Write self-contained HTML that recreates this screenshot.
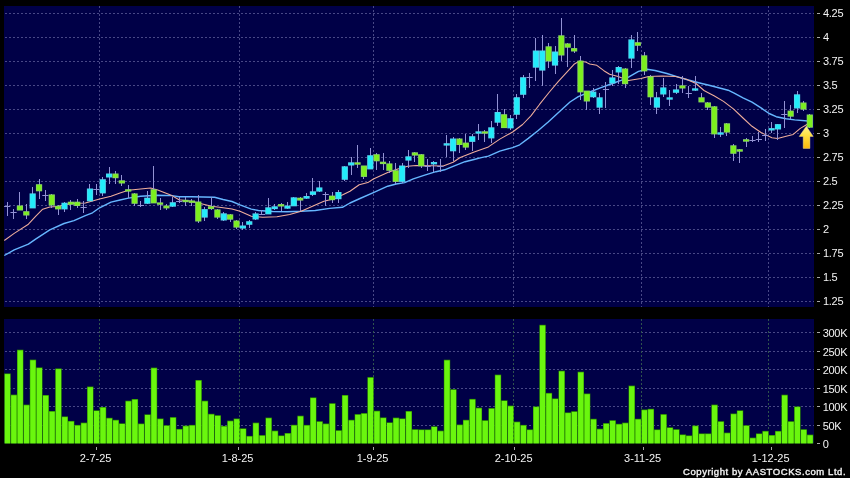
<!DOCTYPE html>
<html><head><meta charset="utf-8"><title>Chart</title>
<style>html,body{margin:0;padding:0;background:#000;}body{width:850px;height:478px;position:relative;overflow:hidden;font-family:"Liberation Sans",sans-serif;}</style></head>
<body>
<svg width="850" height="478" viewBox="0 0 850 478" style="position:absolute;left:0;top:0;will-change:transform">
<rect x="4" y="6" width="810" height="301" fill="#000047"/>
<rect x="4" y="319" width="810" height="124.4" fill="#000047"/>
<g stroke="#484886" stroke-width="1" stroke-dasharray="2 2" shape-rendering="crispEdges" fill="none">
<path d="M5 13.5H814"/>
<path d="M5 37.5H814"/>
<path d="M5 61.5H814"/>
<path d="M5 85.5H814"/>
<path d="M5 109.5H814"/>
<path d="M5 133.5H814"/>
<path d="M5 157.5H814"/>
<path d="M5 181.5H814"/>
<path d="M5 205.5H814"/>
<path d="M5 229.5H814"/>
<path d="M5 253.5H814"/>
<path d="M5 277.5H814"/>
<path d="M5 301.5H814"/>
<path d="M5 332.5H814"/>
<path d="M5 351.5H814"/>
<path d="M5 369.5H814"/>
<path d="M5 388.5H814"/>
<path d="M5 406.5H814"/>
<path d="M5 425.5H814"/>
<path d="M99.5 6V307"/>
<path d="M99.5 319V444"/>
<path d="M239.5 6V307"/>
<path d="M239.5 319V444"/>
<path d="M373.5 6V307"/>
<path d="M373.5 319V444"/>
<path d="M513.5 6V307"/>
<path d="M513.5 319V444"/>
<path d="M641.5 6V307"/>
<path d="M641.5 319V444"/>
<path d="M768.5 6V307"/>
<path d="M768.5 319V444"/>
</g>
<g>
<rect x="4.30" y="373.4" width="6.37" height="70.0" fill="#2c8c00"/>
<rect x="4.80" y="374.1" width="5.37" height="69.3" fill="#6af60e"/>
<rect x="10.67" y="394.6" width="6.37" height="48.8" fill="#2c8c00"/>
<rect x="11.17" y="395.3" width="5.37" height="48.1" fill="#6af60e"/>
<rect x="17.04" y="349.7" width="6.37" height="93.7" fill="#2c8c00"/>
<rect x="17.54" y="350.4" width="5.37" height="93.0" fill="#6af60e"/>
<rect x="23.41" y="404.6" width="6.37" height="38.8" fill="#2c8c00"/>
<rect x="23.91" y="405.3" width="5.37" height="38.1" fill="#6af60e"/>
<rect x="29.78" y="359.6" width="6.37" height="83.8" fill="#2c8c00"/>
<rect x="30.28" y="360.3" width="5.37" height="83.1" fill="#6af60e"/>
<rect x="36.15" y="367.4" width="6.37" height="76.0" fill="#2c8c00"/>
<rect x="36.65" y="368.1" width="5.37" height="75.3" fill="#6af60e"/>
<rect x="42.52" y="395.0" width="6.37" height="48.4" fill="#2c8c00"/>
<rect x="43.02" y="395.7" width="5.37" height="47.7" fill="#6af60e"/>
<rect x="48.89" y="411.0" width="6.37" height="32.4" fill="#2c8c00"/>
<rect x="49.39" y="411.7" width="5.37" height="31.7" fill="#6af60e"/>
<rect x="55.26" y="368.4" width="6.37" height="75.0" fill="#2c8c00"/>
<rect x="55.76" y="369.1" width="5.37" height="74.3" fill="#6af60e"/>
<rect x="61.63" y="416.4" width="6.37" height="27.0" fill="#2c8c00"/>
<rect x="62.13" y="417.1" width="5.37" height="26.3" fill="#6af60e"/>
<rect x="68.00" y="420.9" width="6.37" height="22.5" fill="#2c8c00"/>
<rect x="68.50" y="421.6" width="5.37" height="21.8" fill="#6af60e"/>
<rect x="74.37" y="424.9" width="6.37" height="18.5" fill="#2c8c00"/>
<rect x="74.87" y="425.6" width="5.37" height="17.8" fill="#6af60e"/>
<rect x="80.74" y="422.6" width="6.37" height="20.8" fill="#2c8c00"/>
<rect x="81.24" y="423.3" width="5.37" height="20.1" fill="#6af60e"/>
<rect x="87.11" y="386.5" width="6.37" height="56.9" fill="#2c8c00"/>
<rect x="87.61" y="387.2" width="5.37" height="56.2" fill="#6af60e"/>
<rect x="93.48" y="410.3" width="6.37" height="33.1" fill="#2c8c00"/>
<rect x="93.98" y="411.0" width="5.37" height="32.4" fill="#6af60e"/>
<rect x="99.85" y="407.0" width="6.37" height="36.4" fill="#2c8c00"/>
<rect x="100.35" y="407.7" width="5.37" height="35.7" fill="#6af60e"/>
<rect x="106.22" y="417.8" width="6.37" height="25.6" fill="#2c8c00"/>
<rect x="106.72" y="418.5" width="5.37" height="24.9" fill="#6af60e"/>
<rect x="112.59" y="419.8" width="6.37" height="23.6" fill="#2c8c00"/>
<rect x="113.09" y="420.5" width="5.37" height="22.9" fill="#6af60e"/>
<rect x="118.96" y="423.3" width="6.37" height="20.1" fill="#2c8c00"/>
<rect x="119.46" y="424.0" width="5.37" height="19.4" fill="#6af60e"/>
<rect x="125.33" y="400.7" width="6.37" height="42.7" fill="#2c8c00"/>
<rect x="125.83" y="401.4" width="5.37" height="42.0" fill="#6af60e"/>
<rect x="131.70" y="399.0" width="6.37" height="44.4" fill="#2c8c00"/>
<rect x="132.20" y="399.7" width="5.37" height="43.7" fill="#6af60e"/>
<rect x="138.07" y="423.5" width="6.37" height="19.9" fill="#2c8c00"/>
<rect x="138.57" y="424.2" width="5.37" height="19.2" fill="#6af60e"/>
<rect x="144.44" y="414.3" width="6.37" height="29.1" fill="#2c8c00"/>
<rect x="144.94" y="415.0" width="5.37" height="28.4" fill="#6af60e"/>
<rect x="150.81" y="367.6" width="6.37" height="75.8" fill="#2c8c00"/>
<rect x="151.31" y="368.3" width="5.37" height="75.1" fill="#6af60e"/>
<rect x="157.18" y="418.5" width="6.37" height="24.9" fill="#2c8c00"/>
<rect x="157.68" y="419.2" width="5.37" height="24.2" fill="#6af60e"/>
<rect x="163.55" y="425.2" width="6.37" height="18.2" fill="#2c8c00"/>
<rect x="164.05" y="425.9" width="5.37" height="17.5" fill="#6af60e"/>
<rect x="169.92" y="417.1" width="6.37" height="26.3" fill="#2c8c00"/>
<rect x="170.42" y="417.8" width="5.37" height="25.6" fill="#6af60e"/>
<rect x="176.29" y="428.9" width="6.37" height="14.5" fill="#2c8c00"/>
<rect x="176.79" y="429.6" width="5.37" height="13.8" fill="#6af60e"/>
<rect x="182.66" y="425.6" width="6.37" height="17.8" fill="#2c8c00"/>
<rect x="183.16" y="426.3" width="5.37" height="17.1" fill="#6af60e"/>
<rect x="189.03" y="424.9" width="6.37" height="18.5" fill="#2c8c00"/>
<rect x="189.53" y="425.6" width="5.37" height="17.8" fill="#6af60e"/>
<rect x="195.40" y="380.0" width="6.37" height="63.4" fill="#2c8c00"/>
<rect x="195.90" y="380.7" width="5.37" height="62.7" fill="#6af60e"/>
<rect x="201.77" y="400.7" width="6.37" height="42.7" fill="#2c8c00"/>
<rect x="202.27" y="401.4" width="5.37" height="42.0" fill="#6af60e"/>
<rect x="208.14" y="413.8" width="6.37" height="29.6" fill="#2c8c00"/>
<rect x="208.64" y="414.5" width="5.37" height="28.9" fill="#6af60e"/>
<rect x="214.51" y="415.2" width="6.37" height="28.2" fill="#2c8c00"/>
<rect x="215.01" y="415.9" width="5.37" height="27.5" fill="#6af60e"/>
<rect x="220.88" y="425.9" width="6.37" height="17.5" fill="#2c8c00"/>
<rect x="221.38" y="426.6" width="5.37" height="16.8" fill="#6af60e"/>
<rect x="227.25" y="420.6" width="6.37" height="22.8" fill="#2c8c00"/>
<rect x="227.75" y="421.3" width="5.37" height="22.1" fill="#6af60e"/>
<rect x="233.62" y="418.5" width="6.37" height="24.9" fill="#2c8c00"/>
<rect x="234.12" y="419.2" width="5.37" height="24.2" fill="#6af60e"/>
<rect x="239.99" y="428.3" width="6.37" height="15.1" fill="#2c8c00"/>
<rect x="240.49" y="429.0" width="5.37" height="14.4" fill="#6af60e"/>
<rect x="246.36" y="435.9" width="6.37" height="7.5" fill="#2c8c00"/>
<rect x="246.86" y="436.6" width="5.37" height="6.8" fill="#6af60e"/>
<rect x="252.73" y="422.6" width="6.37" height="20.8" fill="#2c8c00"/>
<rect x="253.23" y="423.3" width="5.37" height="20.1" fill="#6af60e"/>
<rect x="259.10" y="435.1" width="6.37" height="8.3" fill="#2c8c00"/>
<rect x="259.60" y="435.8" width="5.37" height="7.6" fill="#6af60e"/>
<rect x="265.47" y="417.6" width="6.37" height="25.8" fill="#2c8c00"/>
<rect x="265.97" y="418.3" width="5.37" height="25.1" fill="#6af60e"/>
<rect x="271.84" y="430.6" width="6.37" height="12.8" fill="#2c8c00"/>
<rect x="272.34" y="431.3" width="5.37" height="12.1" fill="#6af60e"/>
<rect x="278.21" y="435.4" width="6.37" height="8.0" fill="#2c8c00"/>
<rect x="278.71" y="436.1" width="5.37" height="7.3" fill="#6af60e"/>
<rect x="284.58" y="433.0" width="6.37" height="10.4" fill="#2c8c00"/>
<rect x="285.08" y="433.7" width="5.37" height="9.7" fill="#6af60e"/>
<rect x="290.95" y="424.8" width="6.37" height="18.6" fill="#2c8c00"/>
<rect x="291.45" y="425.5" width="5.37" height="17.9" fill="#6af60e"/>
<rect x="297.32" y="415.7" width="6.37" height="27.7" fill="#2c8c00"/>
<rect x="297.82" y="416.4" width="5.37" height="27.0" fill="#6af60e"/>
<rect x="303.69" y="424.9" width="6.37" height="18.5" fill="#2c8c00"/>
<rect x="304.19" y="425.6" width="5.37" height="17.8" fill="#6af60e"/>
<rect x="310.06" y="397.4" width="6.37" height="46.0" fill="#2c8c00"/>
<rect x="310.56" y="398.1" width="5.37" height="45.3" fill="#6af60e"/>
<rect x="316.43" y="421.2" width="6.37" height="22.2" fill="#2c8c00"/>
<rect x="316.93" y="421.9" width="5.37" height="21.5" fill="#6af60e"/>
<rect x="322.80" y="423.5" width="6.37" height="19.9" fill="#2c8c00"/>
<rect x="323.30" y="424.2" width="5.37" height="19.2" fill="#6af60e"/>
<rect x="329.17" y="403.2" width="6.37" height="40.2" fill="#2c8c00"/>
<rect x="329.67" y="403.9" width="5.37" height="39.5" fill="#6af60e"/>
<rect x="335.54" y="430.2" width="6.37" height="13.2" fill="#2c8c00"/>
<rect x="336.04" y="430.9" width="5.37" height="12.5" fill="#6af60e"/>
<rect x="341.91" y="395.0" width="6.37" height="48.4" fill="#2c8c00"/>
<rect x="342.41" y="395.7" width="5.37" height="47.7" fill="#6af60e"/>
<rect x="348.28" y="419.8" width="6.37" height="23.6" fill="#2c8c00"/>
<rect x="348.78" y="420.5" width="5.37" height="22.9" fill="#6af60e"/>
<rect x="354.65" y="414.1" width="6.37" height="29.3" fill="#2c8c00"/>
<rect x="355.15" y="414.8" width="5.37" height="28.6" fill="#6af60e"/>
<rect x="361.02" y="413.1" width="6.37" height="30.3" fill="#2c8c00"/>
<rect x="361.52" y="413.8" width="5.37" height="29.6" fill="#6af60e"/>
<rect x="367.39" y="377.1" width="6.37" height="66.3" fill="#2c8c00"/>
<rect x="367.89" y="377.8" width="5.37" height="65.6" fill="#6af60e"/>
<rect x="373.76" y="410.7" width="6.37" height="32.7" fill="#2c8c00"/>
<rect x="374.26" y="411.4" width="5.37" height="32.0" fill="#6af60e"/>
<rect x="380.13" y="417.4" width="6.37" height="26.0" fill="#2c8c00"/>
<rect x="380.63" y="418.1" width="5.37" height="25.3" fill="#6af60e"/>
<rect x="386.50" y="422.3" width="6.37" height="21.1" fill="#2c8c00"/>
<rect x="387.00" y="423.0" width="5.37" height="20.4" fill="#6af60e"/>
<rect x="392.87" y="417.6" width="6.37" height="25.8" fill="#2c8c00"/>
<rect x="393.37" y="418.3" width="5.37" height="25.1" fill="#6af60e"/>
<rect x="399.24" y="418.4" width="6.37" height="25.0" fill="#2c8c00"/>
<rect x="399.74" y="419.1" width="5.37" height="24.3" fill="#6af60e"/>
<rect x="405.61" y="411.0" width="6.37" height="32.4" fill="#2c8c00"/>
<rect x="406.11" y="411.7" width="5.37" height="31.7" fill="#6af60e"/>
<rect x="411.98" y="429.2" width="6.37" height="14.2" fill="#2c8c00"/>
<rect x="412.48" y="429.9" width="5.37" height="13.5" fill="#6af60e"/>
<rect x="418.35" y="429.4" width="6.37" height="14.0" fill="#2c8c00"/>
<rect x="418.85" y="430.1" width="5.37" height="13.3" fill="#6af60e"/>
<rect x="424.72" y="429.4" width="6.37" height="14.0" fill="#2c8c00"/>
<rect x="425.22" y="430.1" width="5.37" height="13.3" fill="#6af60e"/>
<rect x="431.09" y="426.3" width="6.37" height="17.1" fill="#2c8c00"/>
<rect x="431.59" y="427.0" width="5.37" height="16.4" fill="#6af60e"/>
<rect x="437.46" y="430.6" width="6.37" height="12.8" fill="#2c8c00"/>
<rect x="437.96" y="431.3" width="5.37" height="12.1" fill="#6af60e"/>
<rect x="443.83" y="359.7" width="6.37" height="83.7" fill="#2c8c00"/>
<rect x="444.33" y="360.4" width="5.37" height="83.0" fill="#6af60e"/>
<rect x="450.20" y="389.2" width="6.37" height="54.2" fill="#2c8c00"/>
<rect x="450.70" y="389.9" width="5.37" height="53.5" fill="#6af60e"/>
<rect x="456.57" y="424.5" width="6.37" height="18.9" fill="#2c8c00"/>
<rect x="457.07" y="425.2" width="5.37" height="18.2" fill="#6af60e"/>
<rect x="462.94" y="419.8" width="6.37" height="23.6" fill="#2c8c00"/>
<rect x="463.44" y="420.5" width="5.37" height="22.9" fill="#6af60e"/>
<rect x="469.31" y="398.9" width="6.37" height="44.5" fill="#2c8c00"/>
<rect x="469.81" y="399.6" width="5.37" height="43.8" fill="#6af60e"/>
<rect x="475.68" y="407.7" width="6.37" height="35.7" fill="#2c8c00"/>
<rect x="476.18" y="408.4" width="5.37" height="35.0" fill="#6af60e"/>
<rect x="482.05" y="420.2" width="6.37" height="23.2" fill="#2c8c00"/>
<rect x="482.55" y="420.9" width="5.37" height="22.5" fill="#6af60e"/>
<rect x="488.42" y="408.1" width="6.37" height="35.3" fill="#2c8c00"/>
<rect x="488.92" y="408.8" width="5.37" height="34.6" fill="#6af60e"/>
<rect x="494.79" y="374.6" width="6.37" height="68.8" fill="#2c8c00"/>
<rect x="495.29" y="375.3" width="5.37" height="68.1" fill="#6af60e"/>
<rect x="501.16" y="400.3" width="6.37" height="43.1" fill="#2c8c00"/>
<rect x="501.66" y="401.0" width="5.37" height="42.4" fill="#6af60e"/>
<rect x="507.53" y="405.6" width="6.37" height="37.8" fill="#2c8c00"/>
<rect x="508.03" y="406.3" width="5.37" height="37.1" fill="#6af60e"/>
<rect x="513.90" y="421.6" width="6.37" height="21.8" fill="#2c8c00"/>
<rect x="514.40" y="422.3" width="5.37" height="21.1" fill="#6af60e"/>
<rect x="520.27" y="424.9" width="6.37" height="18.5" fill="#2c8c00"/>
<rect x="520.77" y="425.6" width="5.37" height="17.8" fill="#6af60e"/>
<rect x="526.64" y="429.4" width="6.37" height="14.0" fill="#2c8c00"/>
<rect x="527.14" y="430.1" width="5.37" height="13.3" fill="#6af60e"/>
<rect x="533.01" y="406.4" width="6.37" height="37.0" fill="#2c8c00"/>
<rect x="533.51" y="407.1" width="5.37" height="36.3" fill="#6af60e"/>
<rect x="539.38" y="324.8" width="6.37" height="118.6" fill="#2c8c00"/>
<rect x="539.88" y="325.5" width="5.37" height="117.9" fill="#6af60e"/>
<rect x="545.75" y="392.9" width="6.37" height="50.5" fill="#2c8c00"/>
<rect x="546.25" y="393.6" width="5.37" height="49.8" fill="#6af60e"/>
<rect x="552.12" y="398.4" width="6.37" height="45.0" fill="#2c8c00"/>
<rect x="552.62" y="399.1" width="5.37" height="44.3" fill="#6af60e"/>
<rect x="558.49" y="370.7" width="6.37" height="72.7" fill="#2c8c00"/>
<rect x="558.99" y="371.4" width="5.37" height="72.0" fill="#6af60e"/>
<rect x="564.86" y="412.4" width="6.37" height="31.0" fill="#2c8c00"/>
<rect x="565.36" y="413.1" width="5.37" height="30.3" fill="#6af60e"/>
<rect x="571.23" y="411.2" width="6.37" height="32.2" fill="#2c8c00"/>
<rect x="571.73" y="411.9" width="5.37" height="31.5" fill="#6af60e"/>
<rect x="577.60" y="371.7" width="6.37" height="71.7" fill="#2c8c00"/>
<rect x="578.10" y="372.4" width="5.37" height="71.0" fill="#6af60e"/>
<rect x="583.97" y="393.5" width="6.37" height="49.9" fill="#2c8c00"/>
<rect x="584.47" y="394.2" width="5.37" height="49.2" fill="#6af60e"/>
<rect x="590.34" y="418.8" width="6.37" height="24.6" fill="#2c8c00"/>
<rect x="590.84" y="419.5" width="5.37" height="23.9" fill="#6af60e"/>
<rect x="596.71" y="428.7" width="6.37" height="14.7" fill="#2c8c00"/>
<rect x="597.21" y="429.4" width="5.37" height="14.0" fill="#6af60e"/>
<rect x="603.08" y="423.1" width="6.37" height="20.3" fill="#2c8c00"/>
<rect x="603.58" y="423.8" width="5.37" height="19.6" fill="#6af60e"/>
<rect x="609.45" y="420.2" width="6.37" height="23.2" fill="#2c8c00"/>
<rect x="609.95" y="420.9" width="5.37" height="22.5" fill="#6af60e"/>
<rect x="615.82" y="423.8" width="6.37" height="19.6" fill="#2c8c00"/>
<rect x="616.32" y="424.5" width="5.37" height="18.9" fill="#6af60e"/>
<rect x="622.19" y="422.6" width="6.37" height="20.8" fill="#2c8c00"/>
<rect x="622.69" y="423.3" width="5.37" height="20.1" fill="#6af60e"/>
<rect x="628.56" y="385.6" width="6.37" height="57.8" fill="#2c8c00"/>
<rect x="629.06" y="386.3" width="5.37" height="57.1" fill="#6af60e"/>
<rect x="634.93" y="418.8" width="6.37" height="24.6" fill="#2c8c00"/>
<rect x="635.43" y="419.5" width="5.37" height="23.9" fill="#6af60e"/>
<rect x="641.30" y="409.5" width="6.37" height="33.9" fill="#2c8c00"/>
<rect x="641.80" y="410.2" width="5.37" height="33.2" fill="#6af60e"/>
<rect x="647.67" y="408.8" width="6.37" height="34.6" fill="#2c8c00"/>
<rect x="648.17" y="409.5" width="5.37" height="33.9" fill="#6af60e"/>
<rect x="654.04" y="429.4" width="6.37" height="14.0" fill="#2c8c00"/>
<rect x="654.54" y="430.1" width="5.37" height="13.3" fill="#6af60e"/>
<rect x="660.41" y="414.1" width="6.37" height="29.3" fill="#2c8c00"/>
<rect x="660.91" y="414.8" width="5.37" height="28.6" fill="#6af60e"/>
<rect x="666.78" y="427.3" width="6.37" height="16.1" fill="#2c8c00"/>
<rect x="667.28" y="428.0" width="5.37" height="15.4" fill="#6af60e"/>
<rect x="673.15" y="429.2" width="6.37" height="14.2" fill="#2c8c00"/>
<rect x="673.65" y="429.9" width="5.37" height="13.5" fill="#6af60e"/>
<rect x="679.52" y="434.4" width="6.37" height="9.0" fill="#2c8c00"/>
<rect x="680.02" y="435.1" width="5.37" height="8.3" fill="#6af60e"/>
<rect x="685.89" y="435.4" width="6.37" height="8.0" fill="#2c8c00"/>
<rect x="686.39" y="436.1" width="5.37" height="7.3" fill="#6af60e"/>
<rect x="692.26" y="425.5" width="6.37" height="17.9" fill="#2c8c00"/>
<rect x="692.76" y="426.2" width="5.37" height="17.2" fill="#6af60e"/>
<rect x="698.63" y="433.4" width="6.37" height="10.0" fill="#2c8c00"/>
<rect x="699.13" y="434.1" width="5.37" height="9.3" fill="#6af60e"/>
<rect x="705.00" y="433.4" width="6.37" height="10.0" fill="#2c8c00"/>
<rect x="705.50" y="434.1" width="5.37" height="9.3" fill="#6af60e"/>
<rect x="711.37" y="404.6" width="6.37" height="38.8" fill="#2c8c00"/>
<rect x="711.87" y="405.3" width="5.37" height="38.1" fill="#6af60e"/>
<rect x="717.74" y="421.2" width="6.37" height="22.2" fill="#2c8c00"/>
<rect x="718.24" y="421.9" width="5.37" height="21.5" fill="#6af60e"/>
<rect x="724.11" y="432.6" width="6.37" height="10.8" fill="#2c8c00"/>
<rect x="724.61" y="433.3" width="5.37" height="10.1" fill="#6af60e"/>
<rect x="730.48" y="413.5" width="6.37" height="29.9" fill="#2c8c00"/>
<rect x="730.98" y="414.2" width="5.37" height="29.2" fill="#6af60e"/>
<rect x="736.85" y="410.3" width="6.37" height="33.1" fill="#2c8c00"/>
<rect x="737.35" y="411.0" width="5.37" height="32.4" fill="#6af60e"/>
<rect x="743.22" y="425.2" width="6.37" height="18.2" fill="#2c8c00"/>
<rect x="743.72" y="425.9" width="5.37" height="17.5" fill="#6af60e"/>
<rect x="749.59" y="437.6" width="6.37" height="5.8" fill="#2c8c00"/>
<rect x="750.09" y="438.3" width="5.37" height="5.1" fill="#6af60e"/>
<rect x="755.96" y="433.4" width="6.37" height="10.0" fill="#2c8c00"/>
<rect x="756.46" y="434.1" width="5.37" height="9.3" fill="#6af60e"/>
<rect x="762.33" y="430.9" width="6.37" height="12.5" fill="#2c8c00"/>
<rect x="762.83" y="431.6" width="5.37" height="11.8" fill="#6af60e"/>
<rect x="768.70" y="435.0" width="6.37" height="8.4" fill="#2c8c00"/>
<rect x="769.20" y="435.7" width="5.37" height="7.7" fill="#6af60e"/>
<rect x="775.07" y="430.9" width="6.37" height="12.5" fill="#2c8c00"/>
<rect x="775.57" y="431.6" width="5.37" height="11.8" fill="#6af60e"/>
<rect x="781.44" y="394.7" width="6.37" height="48.7" fill="#2c8c00"/>
<rect x="781.94" y="395.4" width="5.37" height="48.0" fill="#6af60e"/>
<rect x="787.81" y="421.2" width="6.37" height="22.2" fill="#2c8c00"/>
<rect x="788.31" y="421.9" width="5.37" height="21.5" fill="#6af60e"/>
<rect x="794.18" y="406.4" width="6.37" height="37.0" fill="#2c8c00"/>
<rect x="794.68" y="407.1" width="5.37" height="36.3" fill="#6af60e"/>
<rect x="800.55" y="429.2" width="6.37" height="14.2" fill="#2c8c00"/>
<rect x="801.05" y="429.9" width="5.37" height="13.5" fill="#6af60e"/>
<rect x="806.92" y="434.6" width="6.37" height="8.8" fill="#2c8c00"/>
<rect x="807.42" y="435.3" width="5.37" height="8.1" fill="#6af60e"/>
</g>
<g stroke="#1c5c20" stroke-opacity=".55" stroke-width="1" stroke-dasharray="2 2" shape-rendering="crispEdges" fill="none">
<path d="M99.5 319V444"/>
<path d="M239.5 319V444"/>
<path d="M373.5 319V444"/>
<path d="M513.5 319V444"/>
<path d="M641.5 319V444"/>
<path d="M768.5 319V444"/>
</g>
<polyline points="4.3,255.5 14.2,249.8 28.4,244.1 35.6,239.1 49.8,229.9 64.0,223.5 74.0,220.6 85.3,215.6 92.5,212.8 99.6,207.8 111.0,202.1 120.0,200.0 128.4,198.1 140.6,196.3 157.7,195.3 171.9,195.6 179.0,196.7 191.8,196.7 214.6,197.3 223.1,199.5 232.0,201.5 240.0,204.9 251.3,209.1 258.4,210.5 272.7,211.5 286.9,211.7 301.1,211.3 315.3,210.5 329.6,208.4 342.4,207.3 350.0,203.0 360.0,198.5 373.4,192.6 387.7,186.2 396.2,184.0 404.7,182.6 413.3,178.8 424.7,175.1 436.0,171.7 444.6,169.8 453.1,166.3 465.0,161.7 474.0,159.5 481.3,157.6 488.4,156.1 499.8,151.2 512.6,147.6 519.7,144.8 528.3,138.4 538.2,130.5 548.2,122.0 559.6,111.5 570.0,102.0 578.3,96.7 589.7,92.0 601.0,87.7 612.4,83.5 621.0,80.3 628.5,77.1 638.5,71.4 647.0,69.3 655.0,70.5 666.9,73.5 676.9,76.6 688.3,80.0 699.7,83.0 710.0,85.5 719.6,88.0 728.1,90.2 733.7,92.8 743.0,97.8 752.0,102.2 761.0,107.9 769.1,113.5 776.2,116.7 786.1,118.7 794.7,119.9 807.8,121.0" fill="none" stroke="#66b6ff" stroke-width="1.4" stroke-linejoin="round"/>
<polyline points="4.3,240.5 14.2,233.4 28.4,224.2 35.6,216.4 42.7,209.2 49.8,207.1 56.9,206.4 71.1,203.6 85.3,203.1 99.6,199.1 111.0,196.3 120.0,193.0 128.4,190.2 140.6,188.9 150.6,188.0 157.7,189.9 171.9,195.6 179.0,199.8 191.8,201.3 200.3,203.4 211.7,206.2 223.1,207.7 232.0,209.0 240.0,211.3 251.3,216.2 262.7,217.2 276.9,216.7 289.7,214.4 301.1,211.3 312.5,206.3 323.9,201.3 335.3,198.4 343.8,194.2 350.0,191.3 359.2,184.7 367.8,182.6 373.4,179.0 387.7,172.6 396.2,169.4 407.6,166.3 416.1,165.5 430.3,165.8 443.2,166.0 453.1,162.3 460.2,157.5 474.2,151.9 488.4,146.9 499.8,139.1 512.6,132.0 522.6,124.5 531.1,115.6 539.7,104.2 549.0,92.5 558.4,81.3 566.9,72.1 574.0,64.3 579.7,60.9 585.3,61.9 589.7,64.0 596.8,65.3 603.9,70.7 609.6,74.2 618.1,76.4 628.5,80.4 641.0,78.5 648.5,76.5 662.0,76.0 675.6,76.6 687.0,79.4 696.0,83.5 704.0,90.5 708.2,92.7 714.0,95.8 723.5,101.4 733.7,109.1 743.0,118.0 752.0,126.3 761.0,132.5 771.9,137.7 777.6,138.6 786.1,136.2 793.2,134.4 800.3,128.4 807.8,124.0" fill="none" stroke="#f0ae9c" stroke-width="1.05" stroke-linejoin="round"/>
<g>
<rect x="7" y="202" width="1" height="14" fill="#9292d4" shape-rendering="crispEdges"/>
<rect x="4.09" y="206" width="6.2" height="1" fill="#9292d4"/>
<rect x="13" y="209" width="1" height="10" fill="#9292d4" shape-rendering="crispEdges"/>
<rect x="10.46" y="212" width="6.2" height="1" fill="#9292d4"/>
<rect x="19" y="192" width="1" height="18" fill="#9292d4" shape-rendering="crispEdges"/>
<rect x="16.82" y="205.5" width="6.2" height="5.0" fill="#8bd466"/>
<rect x="17.62" y="206.3" width="4.6" height="3.4" fill="#7cf01e"/>
<rect x="26" y="204" width="1" height="15" fill="#9292d4" shape-rendering="crispEdges"/>
<rect x="23.20" y="211.2" width="6.2" height="4.3" fill="#8bd466"/>
<rect x="24.00" y="212.0" width="4.6" height="2.7" fill="#7cf01e"/>
<rect x="32" y="187" width="1" height="21" fill="#9292d4" shape-rendering="crispEdges"/>
<rect x="29.56" y="193.4" width="6.2" height="15.0" fill="#58d2ee"/>
<rect x="30.36" y="194.2" width="4.6" height="13.4" fill="#22ecfa"/>
<rect x="39" y="179" width="1" height="20" fill="#9292d4" shape-rendering="crispEdges"/>
<rect x="35.94" y="184.2" width="6.2" height="7.1" fill="#8bd466"/>
<rect x="36.74" y="185.0" width="4.6" height="5.5" fill="#7cf01e"/>
<rect x="45" y="190" width="1" height="11" fill="#9292d4" shape-rendering="crispEdges"/>
<rect x="42.30" y="195" width="6.2" height="1" fill="#9292d4"/>
<rect x="51" y="194" width="1" height="14" fill="#9292d4" shape-rendering="crispEdges"/>
<rect x="48.67" y="194.4" width="6.2" height="11.1" fill="#8bd466"/>
<rect x="49.48" y="195.2" width="4.6" height="9.5" fill="#7cf01e"/>
<rect x="58" y="205" width="1" height="10" fill="#9292d4" shape-rendering="crispEdges"/>
<rect x="55.05" y="205.8" width="6.2" height="3.6" fill="#8bd466"/>
<rect x="55.85" y="206.6" width="4.6" height="2.0" fill="#7cf01e"/>
<rect x="64" y="202" width="1" height="10" fill="#9292d4" shape-rendering="crispEdges"/>
<rect x="61.41" y="202.7" width="6.2" height="6.7" fill="#58d2ee"/>
<rect x="62.22" y="203.5" width="4.6" height="5.1" fill="#22ecfa"/>
<rect x="70" y="200" width="1" height="10" fill="#9292d4" shape-rendering="crispEdges"/>
<rect x="67.79" y="201.7" width="6.2" height="3.1" fill="#8bd466"/>
<rect x="68.59" y="202.5" width="4.6" height="1.5" fill="#7cf01e"/>
<rect x="77" y="199" width="1" height="9" fill="#9292d4" shape-rendering="crispEdges"/>
<rect x="74.16" y="201.7" width="6.2" height="4.3" fill="#8bd466"/>
<rect x="74.95" y="202.5" width="4.6" height="2.7" fill="#7cf01e"/>
<rect x="83" y="201" width="1" height="12" fill="#9292d4" shape-rendering="crispEdges"/>
<rect x="80.53" y="207" width="6.2" height="1" fill="#9292d4"/>
<rect x="89" y="184" width="1" height="17" fill="#9292d4" shape-rendering="crispEdges"/>
<rect x="86.90" y="188.5" width="6.2" height="12.8" fill="#58d2ee"/>
<rect x="87.70" y="189.3" width="4.6" height="11.2" fill="#22ecfa"/>
<rect x="96" y="184" width="1" height="11" fill="#9292d4" shape-rendering="crispEdges"/>
<rect x="93.27" y="189" width="6.2" height="1" fill="#9292d4"/>
<rect x="102" y="177" width="1" height="19" fill="#9292d4" shape-rendering="crispEdges"/>
<rect x="99.64" y="179.2" width="6.2" height="14.2" fill="#58d2ee"/>
<rect x="100.44" y="180.0" width="4.6" height="12.6" fill="#22ecfa"/>
<rect x="109" y="167" width="1" height="17" fill="#9292d4" shape-rendering="crispEdges"/>
<rect x="106.01" y="173.5" width="6.2" height="4.0" fill="#58d2ee"/>
<rect x="106.81" y="174.3" width="4.6" height="2.4" fill="#22ecfa"/>
<rect x="115" y="171" width="1" height="13" fill="#9292d4" shape-rendering="crispEdges"/>
<rect x="112.38" y="173.5" width="6.2" height="4.7" fill="#8bd466"/>
<rect x="113.18" y="174.3" width="4.6" height="3.1" fill="#7cf01e"/>
<rect x="121" y="175" width="1" height="11" fill="#9292d4" shape-rendering="crispEdges"/>
<rect x="118.75" y="180.3" width="6.2" height="3.2" fill="#8bd466"/>
<rect x="119.55" y="181.1" width="4.6" height="1.6" fill="#7cf01e"/>
<rect x="128" y="185" width="1" height="13" fill="#9292d4" shape-rendering="crispEdges"/>
<rect x="125.12" y="189.2" width="6.2" height="2.4" fill="#8bd466"/>
<rect x="125.92" y="190.0" width="4.6" height="0.8" fill="#7cf01e"/>
<rect x="134" y="193" width="1" height="13" fill="#9292d4" shape-rendering="crispEdges"/>
<rect x="131.49" y="193.4" width="6.2" height="10.4" fill="#8bd466"/>
<rect x="132.28" y="194.2" width="4.6" height="8.8" fill="#7cf01e"/>
<rect x="140" y="201" width="1" height="6" fill="#9292d4" shape-rendering="crispEdges"/>
<rect x="137.86" y="205" width="6.2" height="1" fill="#9292d4"/>
<rect x="147" y="191" width="1" height="13" fill="#9292d4" shape-rendering="crispEdges"/>
<rect x="144.22" y="197.7" width="6.2" height="6.1" fill="#58d2ee"/>
<rect x="145.02" y="198.5" width="4.6" height="4.5" fill="#22ecfa"/>
<rect x="153" y="166" width="1" height="37" fill="#9292d4" shape-rendering="crispEdges"/>
<rect x="150.59" y="189.2" width="6.2" height="14.2" fill="#8bd466"/>
<rect x="151.39" y="190.0" width="4.6" height="12.6" fill="#7cf01e"/>
<rect x="160" y="198" width="1" height="12" fill="#9292d4" shape-rendering="crispEdges"/>
<rect x="156.97" y="202.4" width="6.2" height="2.4" fill="#8bd466"/>
<rect x="157.76" y="203.2" width="4.6" height="0.8" fill="#7cf01e"/>
<rect x="166" y="204" width="1" height="6" fill="#9292d4" shape-rendering="crispEdges"/>
<rect x="163.34" y="205.5" width="6.2" height="2.9" fill="#8bd466"/>
<rect x="164.13" y="206.3" width="4.6" height="1.3" fill="#7cf01e"/>
<rect x="172" y="197" width="1" height="10" fill="#9292d4" shape-rendering="crispEdges"/>
<rect x="169.71" y="202.2" width="6.2" height="4.5" fill="#58d2ee"/>
<rect x="170.50" y="203.0" width="4.6" height="2.9" fill="#22ecfa"/>
<rect x="179" y="197" width="1" height="6" fill="#9292d4" shape-rendering="crispEdges"/>
<rect x="176.08" y="201" width="6.2" height="1" fill="#9292d4"/>
<rect x="185" y="197" width="1" height="9" fill="#9292d4" shape-rendering="crispEdges"/>
<rect x="182.45" y="199.8" width="6.2" height="2.4" fill="#8bd466"/>
<rect x="183.25" y="200.6" width="4.6" height="0.8" fill="#7cf01e"/>
<rect x="191" y="199" width="1" height="7" fill="#9292d4" shape-rendering="crispEdges"/>
<rect x="188.81" y="200.5" width="6.2" height="2.4" fill="#8bd466"/>
<rect x="189.61" y="201.3" width="4.6" height="0.8" fill="#7cf01e"/>
<rect x="198" y="195" width="1" height="28" fill="#9292d4" shape-rendering="crispEdges"/>
<rect x="195.19" y="201.5" width="6.2" height="20.0" fill="#8bd466"/>
<rect x="195.98" y="202.3" width="4.6" height="18.4" fill="#7cf01e"/>
<rect x="204" y="207" width="1" height="14" fill="#9292d4" shape-rendering="crispEdges"/>
<rect x="201.56" y="209.1" width="6.2" height="8.5" fill="#58d2ee"/>
<rect x="202.35" y="209.9" width="4.6" height="6.9" fill="#22ecfa"/>
<rect x="211" y="197" width="1" height="13" fill="#9292d4" shape-rendering="crispEdges"/>
<rect x="207.93" y="206.2" width="6.2" height="2.9" fill="#8bd466"/>
<rect x="208.72" y="207.0" width="4.6" height="1.3" fill="#7cf01e"/>
<rect x="217" y="209" width="1" height="10" fill="#9292d4" shape-rendering="crispEdges"/>
<rect x="214.30" y="209.4" width="6.2" height="8.2" fill="#8bd466"/>
<rect x="215.09" y="210.2" width="4.6" height="6.6" fill="#7cf01e"/>
<rect x="223" y="212" width="1" height="9" fill="#9292d4" shape-rendering="crispEdges"/>
<rect x="220.67" y="213.3" width="6.2" height="7.2" fill="#58d2ee"/>
<rect x="221.47" y="214.1" width="4.6" height="5.6" fill="#22ecfa"/>
<rect x="230" y="214" width="1" height="8" fill="#9292d4" shape-rendering="crispEdges"/>
<rect x="227.03" y="214.3" width="6.2" height="5.4" fill="#8bd466"/>
<rect x="227.83" y="215.1" width="4.6" height="3.8" fill="#7cf01e"/>
<rect x="236" y="220" width="1" height="9" fill="#9292d4" shape-rendering="crispEdges"/>
<rect x="233.41" y="220.5" width="6.2" height="7.1" fill="#8bd466"/>
<rect x="234.20" y="221.3" width="4.6" height="5.5" fill="#7cf01e"/>
<rect x="242" y="222" width="1" height="8" fill="#9292d4" shape-rendering="crispEdges"/>
<rect x="239.78" y="225.5" width="6.2" height="3.1" fill="#58d2ee"/>
<rect x="240.57" y="226.3" width="4.6" height="1.5" fill="#22ecfa"/>
<rect x="249" y="220" width="1" height="8" fill="#9292d4" shape-rendering="crispEdges"/>
<rect x="246.15" y="221.2" width="6.2" height="3.6" fill="#58d2ee"/>
<rect x="246.94" y="222.0" width="4.6" height="2.0" fill="#22ecfa"/>
<rect x="255" y="212" width="1" height="8" fill="#9292d4" shape-rendering="crispEdges"/>
<rect x="252.52" y="213.4" width="6.2" height="6.1" fill="#58d2ee"/>
<rect x="253.31" y="214.2" width="4.6" height="4.5" fill="#22ecfa"/>
<rect x="261" y="210" width="1" height="5" fill="#9292d4" shape-rendering="crispEdges"/>
<rect x="258.88" y="214" width="6.2" height="1" fill="#9292d4"/>
<rect x="268" y="198" width="1" height="16" fill="#9292d4" shape-rendering="crispEdges"/>
<rect x="265.25" y="207.3" width="6.2" height="7.1" fill="#58d2ee"/>
<rect x="266.06" y="208.1" width="4.6" height="5.5" fill="#22ecfa"/>
<rect x="274" y="204" width="1" height="6" fill="#9292d4" shape-rendering="crispEdges"/>
<rect x="271.62" y="206.3" width="6.2" height="2.8" fill="#58d2ee"/>
<rect x="272.43" y="207.1" width="4.6" height="1.2" fill="#22ecfa"/>
<rect x="281" y="203" width="1" height="8" fill="#9292d4" shape-rendering="crispEdges"/>
<rect x="278.00" y="204.1" width="6.2" height="2.4" fill="#8bd466"/>
<rect x="278.80" y="204.9" width="4.6" height="0.8" fill="#7cf01e"/>
<rect x="287" y="202" width="1" height="7" fill="#9292d4" shape-rendering="crispEdges"/>
<rect x="284.37" y="205.6" width="6.2" height="3.1" fill="#58d2ee"/>
<rect x="285.17" y="206.4" width="4.6" height="1.5" fill="#22ecfa"/>
<rect x="293" y="197" width="1" height="9" fill="#9292d4" shape-rendering="crispEdges"/>
<rect x="290.73" y="197.3" width="6.2" height="9.0" fill="#58d2ee"/>
<rect x="291.53" y="198.1" width="4.6" height="7.4" fill="#22ecfa"/>
<rect x="300" y="197" width="1" height="14" fill="#9292d4" shape-rendering="crispEdges"/>
<rect x="297.10" y="197.7" width="6.2" height="2.9" fill="#8bd466"/>
<rect x="297.90" y="198.5" width="4.6" height="1.3" fill="#7cf01e"/>
<rect x="306" y="193" width="1" height="6" fill="#9292d4" shape-rendering="crispEdges"/>
<rect x="303.47" y="196.0" width="6.2" height="2.7" fill="#58d2ee"/>
<rect x="304.27" y="196.8" width="4.6" height="1.1" fill="#22ecfa"/>
<rect x="312" y="178" width="1" height="18" fill="#9292d4" shape-rendering="crispEdges"/>
<rect x="309.84" y="191.3" width="6.2" height="3.6" fill="#58d2ee"/>
<rect x="310.64" y="192.1" width="4.6" height="2.0" fill="#22ecfa"/>
<rect x="319" y="181" width="1" height="11" fill="#9292d4" shape-rendering="crispEdges"/>
<rect x="316.21" y="187.4" width="6.2" height="4.2" fill="#58d2ee"/>
<rect x="317.01" y="188.2" width="4.6" height="2.6" fill="#22ecfa"/>
<rect x="325" y="192" width="1" height="14" fill="#9292d4" shape-rendering="crispEdges"/>
<rect x="322.58" y="194" width="6.2" height="1" fill="#9292d4"/>
<rect x="332" y="192" width="1" height="11" fill="#9292d4" shape-rendering="crispEdges"/>
<rect x="328.95" y="195.6" width="6.2" height="4.6" fill="#8bd466"/>
<rect x="329.75" y="196.4" width="4.6" height="3.0" fill="#7cf01e"/>
<rect x="338" y="190" width="1" height="13" fill="#9292d4" shape-rendering="crispEdges"/>
<rect x="335.32" y="192.0" width="6.2" height="7.2" fill="#58d2ee"/>
<rect x="336.12" y="192.8" width="4.6" height="5.6" fill="#22ecfa"/>
<rect x="344" y="166" width="1" height="15" fill="#9292d4" shape-rendering="crispEdges"/>
<rect x="341.69" y="166.3" width="6.2" height="13.5" fill="#58d2ee"/>
<rect x="342.50" y="167.1" width="4.6" height="11.9" fill="#22ecfa"/>
<rect x="351" y="157" width="1" height="18" fill="#9292d4" shape-rendering="crispEdges"/>
<rect x="348.06" y="162.3" width="6.2" height="3.2" fill="#58d2ee"/>
<rect x="348.87" y="163.1" width="4.6" height="1.6" fill="#22ecfa"/>
<rect x="357" y="145" width="1" height="23" fill="#9292d4" shape-rendering="crispEdges"/>
<rect x="354.44" y="162.3" width="6.2" height="2.4" fill="#8bd466"/>
<rect x="355.24" y="163.1" width="4.6" height="0.8" fill="#7cf01e"/>
<rect x="363" y="166" width="1" height="13" fill="#9292d4" shape-rendering="crispEdges"/>
<rect x="360.81" y="165.5" width="6.2" height="11.4" fill="#8bd466"/>
<rect x="361.61" y="166.3" width="4.6" height="9.8" fill="#7cf01e"/>
<rect x="370" y="148" width="1" height="21" fill="#9292d4" shape-rendering="crispEdges"/>
<rect x="367.18" y="155.2" width="6.2" height="14.2" fill="#58d2ee"/>
<rect x="367.98" y="156.0" width="4.6" height="12.6" fill="#22ecfa"/>
<rect x="376" y="153" width="1" height="17" fill="#9292d4" shape-rendering="crispEdges"/>
<rect x="373.54" y="154.2" width="6.2" height="7.1" fill="#8bd466"/>
<rect x="374.34" y="155.0" width="4.6" height="5.5" fill="#7cf01e"/>
<rect x="383" y="153" width="1" height="17" fill="#9292d4" shape-rendering="crispEdges"/>
<rect x="379.91" y="161.7" width="6.2" height="2.4" fill="#8bd466"/>
<rect x="380.71" y="162.5" width="4.6" height="0.8" fill="#7cf01e"/>
<rect x="389" y="161" width="1" height="12" fill="#9292d4" shape-rendering="crispEdges"/>
<rect x="386.28" y="163.4" width="6.2" height="7.4" fill="#8bd466"/>
<rect x="387.08" y="164.2" width="4.6" height="5.8" fill="#7cf01e"/>
<rect x="395" y="163" width="1" height="21" fill="#9292d4" shape-rendering="crispEdges"/>
<rect x="392.65" y="170.2" width="6.2" height="11.7" fill="#8bd466"/>
<rect x="393.45" y="171.0" width="4.6" height="10.1" fill="#7cf01e"/>
<rect x="402" y="163" width="1" height="20" fill="#9292d4" shape-rendering="crispEdges"/>
<rect x="399.02" y="165.5" width="6.2" height="16.4" fill="#58d2ee"/>
<rect x="399.82" y="166.3" width="4.6" height="14.8" fill="#22ecfa"/>
<rect x="408" y="150" width="1" height="18" fill="#9292d4" shape-rendering="crispEdges"/>
<rect x="405.39" y="156.3" width="6.2" height="4.3" fill="#58d2ee"/>
<rect x="406.19" y="157.1" width="4.6" height="2.7" fill="#22ecfa"/>
<rect x="414" y="152" width="1" height="10" fill="#9292d4" shape-rendering="crispEdges"/>
<rect x="411.76" y="152.3" width="6.2" height="3.3" fill="#8bd466"/>
<rect x="412.56" y="153.1" width="4.6" height="1.7" fill="#7cf01e"/>
<rect x="421" y="154" width="1" height="14" fill="#9292d4" shape-rendering="crispEdges"/>
<rect x="418.13" y="154.2" width="6.2" height="12.1" fill="#8bd466"/>
<rect x="418.94" y="155.0" width="4.6" height="10.5" fill="#7cf01e"/>
<rect x="427" y="159" width="1" height="12" fill="#9292d4" shape-rendering="crispEdges"/>
<rect x="424.50" y="166" width="6.2" height="1" fill="#9292d4"/>
<rect x="433" y="161" width="1" height="11" fill="#9292d4" shape-rendering="crispEdges"/>
<rect x="430.88" y="162.0" width="6.2" height="2.4" fill="#58d2ee"/>
<rect x="431.68" y="162.8" width="4.6" height="0.8" fill="#22ecfa"/>
<rect x="440" y="159" width="1" height="13" fill="#9292d4" shape-rendering="crispEdges"/>
<rect x="437.25" y="166" width="6.2" height="1" fill="#9292d4"/>
<rect x="446" y="135" width="1" height="22" fill="#9292d4" shape-rendering="crispEdges"/>
<rect x="443.62" y="143.2" width="6.2" height="2.4" fill="#58d2ee"/>
<rect x="444.42" y="144.0" width="4.6" height="0.8" fill="#22ecfa"/>
<rect x="453" y="137" width="1" height="24" fill="#9292d4" shape-rendering="crispEdges"/>
<rect x="449.98" y="138.5" width="6.2" height="12.8" fill="#58d2ee"/>
<rect x="450.78" y="139.3" width="4.6" height="11.2" fill="#22ecfa"/>
<rect x="459" y="138" width="1" height="15" fill="#9292d4" shape-rendering="crispEdges"/>
<rect x="456.35" y="138.5" width="6.2" height="6.5" fill="#8bd466"/>
<rect x="457.15" y="139.3" width="4.6" height="4.9" fill="#7cf01e"/>
<rect x="465" y="134" width="1" height="16" fill="#9292d4" shape-rendering="crispEdges"/>
<rect x="462.72" y="142.6" width="6.2" height="5.0" fill="#8bd466"/>
<rect x="463.52" y="143.4" width="4.6" height="3.4" fill="#7cf01e"/>
<rect x="472" y="134" width="1" height="17" fill="#9292d4" shape-rendering="crispEdges"/>
<rect x="469.09" y="136.2" width="6.2" height="5.7" fill="#58d2ee"/>
<rect x="469.89" y="137.0" width="4.6" height="4.1" fill="#22ecfa"/>
<rect x="478" y="124" width="1" height="16" fill="#9292d4" shape-rendering="crispEdges"/>
<rect x="475.46" y="131.3" width="6.2" height="2.4" fill="#58d2ee"/>
<rect x="476.26" y="132.1" width="4.6" height="0.8" fill="#22ecfa"/>
<rect x="484" y="130" width="1" height="12" fill="#9292d4" shape-rendering="crispEdges"/>
<rect x="481.83" y="131.3" width="6.2" height="2.4" fill="#8bd466"/>
<rect x="482.63" y="132.1" width="4.6" height="0.8" fill="#7cf01e"/>
<rect x="491" y="121" width="1" height="22" fill="#9292d4" shape-rendering="crispEdges"/>
<rect x="488.20" y="127.3" width="6.2" height="11.1" fill="#58d2ee"/>
<rect x="489.00" y="128.1" width="4.6" height="9.5" fill="#22ecfa"/>
<rect x="497" y="94" width="1" height="32" fill="#9292d4" shape-rendering="crispEdges"/>
<rect x="494.57" y="112.0" width="6.2" height="10.7" fill="#58d2ee"/>
<rect x="495.38" y="112.8" width="4.6" height="9.1" fill="#22ecfa"/>
<rect x="504" y="109" width="1" height="19" fill="#9292d4" shape-rendering="crispEdges"/>
<rect x="500.94" y="114.2" width="6.2" height="13.9" fill="#8bd466"/>
<rect x="501.75" y="115.0" width="4.6" height="12.3" fill="#7cf01e"/>
<rect x="510" y="115" width="1" height="15" fill="#9292d4" shape-rendering="crispEdges"/>
<rect x="507.31" y="118.2" width="6.2" height="10.2" fill="#58d2ee"/>
<rect x="508.12" y="119.0" width="4.6" height="8.6" fill="#22ecfa"/>
<rect x="516" y="94" width="1" height="25" fill="#9292d4" shape-rendering="crispEdges"/>
<rect x="513.68" y="97.2" width="6.2" height="17.6" fill="#58d2ee"/>
<rect x="514.49" y="98.0" width="4.6" height="16.0" fill="#22ecfa"/>
<rect x="523" y="75" width="1" height="23" fill="#9292d4" shape-rendering="crispEdges"/>
<rect x="520.05" y="77.2" width="6.2" height="17.6" fill="#58d2ee"/>
<rect x="520.86" y="78.0" width="4.6" height="16.0" fill="#22ecfa"/>
<rect x="529" y="73" width="1" height="15" fill="#9292d4" shape-rendering="crispEdges"/>
<rect x="526.42" y="77" width="6.2" height="1" fill="#9292d4"/>
<rect x="535" y="38" width="1" height="43" fill="#9292d4" shape-rendering="crispEdges"/>
<rect x="532.79" y="50.5" width="6.2" height="17.2" fill="#58d2ee"/>
<rect x="533.60" y="51.3" width="4.6" height="15.6" fill="#22ecfa"/>
<rect x="542" y="35" width="1" height="51" fill="#9292d4" shape-rendering="crispEdges"/>
<rect x="539.16" y="50.5" width="6.2" height="20.1" fill="#58d2ee"/>
<rect x="539.97" y="51.3" width="4.6" height="18.5" fill="#22ecfa"/>
<rect x="548" y="43" width="1" height="25" fill="#9292d4" shape-rendering="crispEdges"/>
<rect x="545.53" y="46.3" width="6.2" height="15.1" fill="#8bd466"/>
<rect x="546.34" y="47.1" width="4.6" height="13.5" fill="#7cf01e"/>
<rect x="555" y="46" width="1" height="28" fill="#9292d4" shape-rendering="crispEdges"/>
<rect x="551.90" y="51.5" width="6.2" height="14.1" fill="#58d2ee"/>
<rect x="552.71" y="52.3" width="4.6" height="12.5" fill="#22ecfa"/>
<rect x="561" y="18" width="1" height="43" fill="#9292d4" shape-rendering="crispEdges"/>
<rect x="558.27" y="35.3" width="6.2" height="20.2" fill="#8bd466"/>
<rect x="559.08" y="36.1" width="4.6" height="18.6" fill="#7cf01e"/>
<rect x="567" y="43" width="1" height="24" fill="#9292d4" shape-rendering="crispEdges"/>
<rect x="564.64" y="43.4" width="6.2" height="4.3" fill="#8bd466"/>
<rect x="565.45" y="44.2" width="4.6" height="2.7" fill="#7cf01e"/>
<rect x="574" y="35" width="1" height="18" fill="#9292d4" shape-rendering="crispEdges"/>
<rect x="571.01" y="48.1" width="6.2" height="3.4" fill="#8bd466"/>
<rect x="571.82" y="48.9" width="4.6" height="1.8" fill="#7cf01e"/>
<rect x="580" y="56" width="1" height="44" fill="#9292d4" shape-rendering="crispEdges"/>
<rect x="577.38" y="60.6" width="6.2" height="31.8" fill="#8bd466"/>
<rect x="578.19" y="61.4" width="4.6" height="30.2" fill="#7cf01e"/>
<rect x="586" y="91" width="1" height="19" fill="#9292d4" shape-rendering="crispEdges"/>
<rect x="583.75" y="90.6" width="6.2" height="10.9" fill="#8bd466"/>
<rect x="584.56" y="91.4" width="4.6" height="9.3" fill="#7cf01e"/>
<rect x="593" y="88" width="1" height="10" fill="#9292d4" shape-rendering="crispEdges"/>
<rect x="590.12" y="91.6" width="6.2" height="5.7" fill="#58d2ee"/>
<rect x="590.93" y="92.4" width="4.6" height="4.1" fill="#22ecfa"/>
<rect x="599" y="93" width="1" height="21" fill="#9292d4" shape-rendering="crispEdges"/>
<rect x="596.50" y="97.3" width="6.2" height="10.4" fill="#58d2ee"/>
<rect x="597.30" y="98.1" width="4.6" height="8.8" fill="#22ecfa"/>
<rect x="605" y="82" width="1" height="26" fill="#9292d4" shape-rendering="crispEdges"/>
<rect x="602.87" y="89" width="6.2" height="1" fill="#9292d4"/>
<rect x="612" y="70" width="1" height="16" fill="#9292d4" shape-rendering="crispEdges"/>
<rect x="609.24" y="77.4" width="6.2" height="6.1" fill="#58d2ee"/>
<rect x="610.04" y="78.2" width="4.6" height="4.5" fill="#22ecfa"/>
<rect x="618" y="66" width="1" height="18" fill="#9292d4" shape-rendering="crispEdges"/>
<rect x="615.61" y="67.0" width="6.2" height="5.5" fill="#58d2ee"/>
<rect x="616.41" y="67.8" width="4.6" height="3.9" fill="#22ecfa"/>
<rect x="625" y="68" width="1" height="20" fill="#9292d4" shape-rendering="crispEdges"/>
<rect x="621.98" y="68.5" width="6.2" height="15.7" fill="#8bd466"/>
<rect x="622.78" y="69.3" width="4.6" height="14.1" fill="#7cf01e"/>
<rect x="631" y="35" width="1" height="33" fill="#9292d4" shape-rendering="crispEdges"/>
<rect x="628.35" y="39.4" width="6.2" height="19.2" fill="#58d2ee"/>
<rect x="629.15" y="40.2" width="4.6" height="17.6" fill="#22ecfa"/>
<rect x="637" y="32" width="1" height="19" fill="#9292d4" shape-rendering="crispEdges"/>
<rect x="634.72" y="42.2" width="6.2" height="3.6" fill="#8bd466"/>
<rect x="635.52" y="43.0" width="4.6" height="2.0" fill="#7cf01e"/>
<rect x="644" y="52" width="1" height="23" fill="#9292d4" shape-rendering="crispEdges"/>
<rect x="641.09" y="55.3" width="6.2" height="16.1" fill="#8bd466"/>
<rect x="641.89" y="56.1" width="4.6" height="14.5" fill="#7cf01e"/>
<rect x="650" y="75" width="1" height="30" fill="#9292d4" shape-rendering="crispEdges"/>
<rect x="647.46" y="76.5" width="6.2" height="20.8" fill="#8bd466"/>
<rect x="648.26" y="77.3" width="4.6" height="19.2" fill="#7cf01e"/>
<rect x="656" y="92" width="1" height="22" fill="#9292d4" shape-rendering="crispEdges"/>
<rect x="653.82" y="97.3" width="6.2" height="10.4" fill="#58d2ee"/>
<rect x="654.62" y="98.1" width="4.6" height="8.8" fill="#22ecfa"/>
<rect x="663" y="78" width="1" height="19" fill="#9292d4" shape-rendering="crispEdges"/>
<rect x="660.19" y="87.4" width="6.2" height="7.1" fill="#58d2ee"/>
<rect x="661.00" y="88.2" width="4.6" height="5.5" fill="#22ecfa"/>
<rect x="669" y="90" width="1" height="16" fill="#9292d4" shape-rendering="crispEdges"/>
<rect x="666.56" y="97.3" width="6.2" height="2.4" fill="#58d2ee"/>
<rect x="667.37" y="98.1" width="4.6" height="0.8" fill="#22ecfa"/>
<rect x="676" y="84" width="1" height="10" fill="#9292d4" shape-rendering="crispEdges"/>
<rect x="672.93" y="89.4" width="6.2" height="3.4" fill="#58d2ee"/>
<rect x="673.74" y="90.2" width="4.6" height="1.8" fill="#22ecfa"/>
<rect x="682" y="76" width="1" height="17" fill="#9292d4" shape-rendering="crispEdges"/>
<rect x="679.30" y="85.3" width="6.2" height="3.2" fill="#8bd466"/>
<rect x="680.11" y="86.1" width="4.6" height="1.6" fill="#7cf01e"/>
<rect x="688" y="86" width="1" height="12" fill="#9292d4" shape-rendering="crispEdges"/>
<rect x="685.67" y="93" width="6.2" height="1" fill="#9292d4"/>
<rect x="695" y="76" width="1" height="15" fill="#9292d4" shape-rendering="crispEdges"/>
<rect x="692.04" y="88.3" width="6.2" height="2.4" fill="#58d2ee"/>
<rect x="692.85" y="89.1" width="4.6" height="0.8" fill="#22ecfa"/>
<rect x="701" y="93" width="1" height="9" fill="#9292d4" shape-rendering="crispEdges"/>
<rect x="698.41" y="97.3" width="6.2" height="5.1" fill="#8bd466"/>
<rect x="699.22" y="98.1" width="4.6" height="3.5" fill="#7cf01e"/>
<rect x="707" y="102" width="1" height="8" fill="#9292d4" shape-rendering="crispEdges"/>
<rect x="704.78" y="102.4" width="6.2" height="5.3" fill="#8bd466"/>
<rect x="705.59" y="103.2" width="4.6" height="3.7" fill="#7cf01e"/>
<rect x="714" y="106" width="1" height="32" fill="#9292d4" shape-rendering="crispEdges"/>
<rect x="711.15" y="106.3" width="6.2" height="28.1" fill="#8bd466"/>
<rect x="711.96" y="107.1" width="4.6" height="26.5" fill="#7cf01e"/>
<rect x="720" y="127" width="1" height="10" fill="#9292d4" shape-rendering="crispEdges"/>
<rect x="717.52" y="132.3" width="6.2" height="2.4" fill="#58d2ee"/>
<rect x="718.33" y="133.1" width="4.6" height="0.8" fill="#22ecfa"/>
<rect x="726" y="123" width="1" height="13" fill="#9292d4" shape-rendering="crispEdges"/>
<rect x="723.89" y="123.3" width="6.2" height="9.3" fill="#8bd466"/>
<rect x="724.70" y="124.1" width="4.6" height="7.7" fill="#7cf01e"/>
<rect x="733" y="144" width="1" height="17" fill="#9292d4" shape-rendering="crispEdges"/>
<rect x="730.26" y="145.3" width="6.2" height="8.5" fill="#8bd466"/>
<rect x="731.07" y="146.1" width="4.6" height="6.9" fill="#7cf01e"/>
<rect x="739" y="149" width="1" height="14" fill="#9292d4" shape-rendering="crispEdges"/>
<rect x="736.63" y="149.2" width="6.2" height="2.5" fill="#8bd466"/>
<rect x="737.44" y="150.0" width="4.6" height="0.9" fill="#7cf01e"/>
<rect x="746" y="138" width="1" height="9" fill="#9292d4" shape-rendering="crispEdges"/>
<rect x="743.00" y="139.2" width="6.2" height="2.5" fill="#8bd466"/>
<rect x="743.81" y="140.0" width="4.6" height="0.9" fill="#7cf01e"/>
<rect x="752" y="136" width="1" height="6" fill="#9292d4" shape-rendering="crispEdges"/>
<rect x="749.38" y="140" width="6.2" height="1" fill="#9292d4"/>
<rect x="758" y="132" width="1" height="10" fill="#9292d4" shape-rendering="crispEdges"/>
<rect x="755.75" y="139" width="6.2" height="1" fill="#9292d4"/>
<rect x="765" y="129" width="1" height="12" fill="#9292d4" shape-rendering="crispEdges"/>
<rect x="762.12" y="135" width="6.2" height="1" fill="#9292d4"/>
<rect x="771" y="122" width="1" height="11" fill="#9292d4" shape-rendering="crispEdges"/>
<rect x="768.49" y="128.1" width="6.2" height="2.4" fill="#58d2ee"/>
<rect x="769.29" y="128.9" width="4.6" height="0.8" fill="#22ecfa"/>
<rect x="777" y="124" width="1" height="16" fill="#9292d4" shape-rendering="crispEdges"/>
<rect x="774.86" y="124.1" width="6.2" height="5.4" fill="#58d2ee"/>
<rect x="775.66" y="124.9" width="4.6" height="3.8" fill="#22ecfa"/>
<rect x="784" y="101" width="1" height="27" fill="#9292d4" shape-rendering="crispEdges"/>
<rect x="781.23" y="114" width="6.2" height="1" fill="#9292d4"/>
<rect x="790" y="105" width="1" height="14" fill="#9292d4" shape-rendering="crispEdges"/>
<rect x="787.60" y="110.6" width="6.2" height="6.1" fill="#8bd466"/>
<rect x="788.40" y="111.4" width="4.6" height="4.5" fill="#7cf01e"/>
<rect x="797" y="91" width="1" height="22" fill="#9292d4" shape-rendering="crispEdges"/>
<rect x="793.97" y="94.3" width="6.2" height="14.2" fill="#58d2ee"/>
<rect x="794.77" y="95.1" width="4.6" height="12.6" fill="#22ecfa"/>
<rect x="803" y="101" width="1" height="10" fill="#9292d4" shape-rendering="crispEdges"/>
<rect x="800.34" y="102.5" width="6.2" height="7.1" fill="#8bd466"/>
<rect x="801.14" y="103.3" width="4.6" height="5.5" fill="#7cf01e"/>
<rect x="809" y="114" width="1" height="14" fill="#9292d4" shape-rendering="crispEdges"/>
<rect x="806.71" y="114.5" width="6.2" height="13.2" fill="#8bd466"/>
<rect x="807.51" y="115.3" width="4.6" height="11.6" fill="#7cf01e"/>
</g>
<defs><linearGradient id="ag" x1="0" x2="0" y1="0" y2="1"><stop offset="0" stop-color="#fff68c"/><stop offset=".45" stop-color="#ffde3c"/><stop offset="1" stop-color="#fcb80c"/></linearGradient></defs>
<path d="M806.3 126.2L813.2 136.4H809.9V148.4H803.2V136.4H799.2Z" fill="url(#ag)" stroke="#ffeaa0" stroke-opacity=".7" stroke-width=".6"/>
<g fill="#a8a8a8" shape-rendering="crispEdges">
<rect x="817" y="13" width="3" height="1"/>
<rect x="817" y="37" width="3" height="1"/>
<rect x="817" y="61" width="3" height="1"/>
<rect x="817" y="85" width="3" height="1"/>
<rect x="817" y="109" width="3" height="1"/>
<rect x="817" y="133" width="3" height="1"/>
<rect x="817" y="157" width="3" height="1"/>
<rect x="817" y="181" width="3" height="1"/>
<rect x="817" y="205" width="3" height="1"/>
<rect x="817" y="229" width="3" height="1"/>
<rect x="817" y="253" width="3" height="1"/>
<rect x="817" y="277" width="3" height="1"/>
<rect x="817" y="301" width="3" height="1"/>
<rect x="817" y="332" width="3" height="1"/>
<rect x="817" y="351" width="3" height="1"/>
<rect x="817" y="369" width="3" height="1"/>
<rect x="817" y="388" width="3" height="1"/>
<rect x="817" y="406" width="3" height="1"/>
<rect x="817" y="425" width="3" height="1"/>
<rect x="817" y="443" width="3" height="1"/>
<rect x="96" y="447" width="1" height="3"/>
<rect x="238" y="447" width="1" height="3"/>
<rect x="373" y="447" width="1" height="3"/>
<rect x="514" y="447" width="1" height="3"/>
<rect x="643" y="447" width="1" height="3"/>
<rect x="771" y="447" width="1" height="3"/>
</g>
<g font-family="Liberation Sans, sans-serif" font-size="11" fill="#f4f4f4">
<text x="823" y="16.8" letter-spacing="-0.3">4.25</text>
<text x="823" y="40.8" letter-spacing="-0.3">4</text>
<text x="823" y="64.8" letter-spacing="-0.3">3.75</text>
<text x="823" y="88.8" letter-spacing="-0.3">3.5</text>
<text x="823" y="112.8" letter-spacing="-0.3">3.25</text>
<text x="823" y="136.8" letter-spacing="-0.3">3</text>
<text x="823" y="160.8" letter-spacing="-0.3">2.75</text>
<text x="823" y="184.8" letter-spacing="-0.3">2.5</text>
<text x="823" y="208.8" letter-spacing="-0.3">2.25</text>
<text x="823" y="232.8" letter-spacing="-0.3">2</text>
<text x="823" y="256.8" letter-spacing="-0.3">1.75</text>
<text x="823" y="280.8" letter-spacing="-0.3">1.5</text>
<text x="823" y="304.8" letter-spacing="-0.3">1.25</text>
<text x="822.7" y="336.6" letter-spacing="-0.3">300K</text>
<text x="822.7" y="355.6" letter-spacing="-0.3">250K</text>
<text x="822.7" y="373.6" letter-spacing="-0.3">200K</text>
<text x="822.7" y="392.6" letter-spacing="-0.3">150K</text>
<text x="822.7" y="410.6" letter-spacing="-0.3">100K</text>
<text x="822.7" y="429.6" letter-spacing="-0.3">50K</text>
<text x="822.7" y="447.6" letter-spacing="-0.3">0</text>
<text x="95.6" y="462" text-anchor="middle">2-7-25</text>
<text x="237.6" y="462" text-anchor="middle">1-8-25</text>
<text x="372.6" y="462" text-anchor="middle">1-9-25</text>
<text x="513.6" y="462" text-anchor="middle">2-10-25</text>
<text x="642.6" y="462" text-anchor="middle">3-11-25</text>
<text x="770.6" y="462" text-anchor="middle">1-12-25</text>
</g>
<text x="846.2" y="475" text-anchor="end" font-family="Liberation Sans, sans-serif" font-size="9.5" fill="#f0f0f0" stroke="#f0f0f0" stroke-width="0.4" letter-spacing="0.57">Copyright by AASTOCKS.com Ltd.</text>
</svg>
</body></html>
